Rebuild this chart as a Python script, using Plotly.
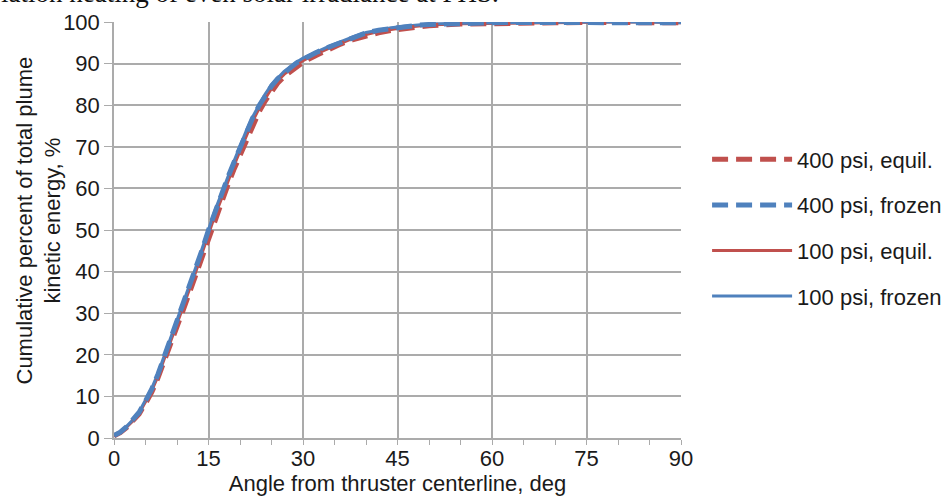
import plotly.graph_objects as go

angle = [0, 1, 2, 3, 4, 5, 6, 7, 8, 9, 10, 11, 12, 13, 14, 15, 16, 17, 18, 19, 20,
         21, 22, 23, 24, 25, 26, 27, 28, 29, 30, 32, 34, 36, 38, 40, 42, 44, 46, 48,
         50, 55, 60, 65, 70, 75, 80, 85, 90]

equil_400 = [0.5, 1.3, 2.5, 4.0, 5.8, 8.3, 11.0, 14.5, 18.4, 22.6, 26.7, 30.8, 35.0, 39.3,
             43.7, 48.2, 52.4, 56.4, 60.5, 64.4, 68.0, 71.8, 75.2, 78.3, 81.0, 83.4, 85.3,
             86.9, 88.1, 89.3, 90.3, 91.9, 93.4, 94.7, 95.8, 96.7, 97.4, 98.0, 98.4, 98.8,
             99.1, 99.5, 99.7, 99.8, 99.8, 99.9, 99.9, 99.9, 99.8]

frozen_400 = [0.6, 1.4, 2.7, 4.3, 6.2, 8.9, 11.8, 15.4, 19.6, 23.8, 27.9, 32.1, 36.4, 40.8,
              45.3, 50.0, 54.3, 58.2, 62.4, 66.1, 69.8, 73.6, 76.9, 79.8, 82.4, 84.6, 86.4,
              87.9, 89.0, 90.2, 91.1, 92.6, 93.9, 95.1, 96.4, 97.4, 98.0, 98.5, 98.9, 99.2,
              99.4, 99.7, 99.8, 99.9, 99.9, 100.0, 100.0, 100.0, 99.8]

equil_100 = [0.5, 1.4, 2.6, 4.1, 6.0, 8.6, 11.4, 14.9, 19.0, 23.2, 27.3, 31.4, 35.7, 40.0,
             44.5, 49.1, 53.4, 57.3, 61.5, 65.3, 69.0, 72.7, 76.1, 79.1, 81.7, 84.0, 85.9,
             87.4, 88.6, 89.8, 90.7, 92.3, 93.6, 94.9, 96.1, 97.0, 97.7, 98.2, 98.7, 99.0,
             99.3, 99.6, 99.7, 99.8, 99.9, 99.9, 100.0, 100.0, 99.8]

frozen_100 = [0.6, 1.5, 2.8, 4.4, 6.3, 9.0, 12.0, 15.6, 19.8, 24.0, 28.2, 32.4, 36.7, 41.1,
              45.6, 50.3, 54.6, 58.5, 62.7, 66.4, 70.1, 73.9, 77.2, 80.1, 82.7, 84.9, 86.6,
              88.1, 89.2, 90.4, 91.3, 92.8, 94.1, 95.3, 96.5, 97.5, 98.1, 98.6, 99.0, 99.3,
              99.5, 99.7, 99.8, 99.9, 99.9, 100.0, 100.0, 100.0, 99.8]

names = ["400 psi, equil.", "400 psi, frozen", "100 psi, equil.", "100 psi, frozen"]
x_title = "Angle from thruster centerline, deg"
y_title = "Cumulative percent of total plume<br>kinetic energy, %"
top_text = "iation heating of even solar irradiance at PHS."

RED = "#C0504D"
BLUE = "#4F81BD"
GRID = "#ABABAB"
FONT = "Liberation Sans, Arial, sans-serif"

fig = go.Figure()

series = [
    (names[2], equil_100, RED, None, 3, 3),
    (names[3], frozen_100, BLUE, None, 3, 4),
    (names[0], equil_400, RED, "16px,8px", 5, 1),
    (names[1], frozen_400, BLUE, "16px,8px", 5, 2),
]
for name, vals, color, dash, width, rank in series:
    fig.add_trace(go.Scatter(
        x=angle, y=vals, mode="lines", name=name,
        line=dict(color=color, width=width, dash=dash),
        legendrank=rank, legendgroup=name,
    ))

fig.update_layout(
    width=947, height=498,
    margin=dict(l=114, r=266, t=22, b=60, autoexpand=False),
    paper_bgcolor="white", plot_bgcolor="white",
    font=dict(family=FONT, size=22, color="#1a1a1a"),
    showlegend=True,
    legend=dict(x=1.046, y=0.72, xanchor="left", yanchor="top",
                font=dict(family=FONT, size=22, color="#1a1a1a"),
                itemwidth=80,
                tracegroupgap=14, bgcolor="rgba(0,0,0,0)"),
    xaxis=dict(
        range=[0, 90], tick0=0, dtick=15, automargin=True,
        showgrid=True, gridcolor=GRID, gridwidth=1.5,
        showline=True, linecolor=GRID, linewidth=1.5,
        ticks="outside", ticklen=5, tickcolor=GRID,
        minor=dict(dtick=5, ticks="outside", ticklen=5, tickcolor=GRID, showgrid=False),
        tickfont=dict(size=22), zeroline=False, ticklabelstandoff=-5,
        title=dict(text=x_title, font=dict(size=22), standoff=4),
    ),
    yaxis=dict(
        range=[0, 100], dtick=10, automargin=True,
        showgrid=True, gridcolor=GRID, gridwidth=1.5,
        showline=True, linecolor=GRID, linewidth=1.5,
        ticks="outside", ticklen=8, tickcolor=GRID,
        tickfont=dict(size=22), zeroline=False,
    ),
    annotations=[
        dict(text=y_title, textangle=-90,
             xref="paper", yref="paper", x=(38.5 - 114) / 567, y=1 - (221 - 22) / 416,
             xanchor="center", yanchor="middle", showarrow=False,
             font=dict(family=FONT, size=22, color="#1a1a1a")),
        dict(text=top_text,
             xref="paper", yref="paper", x=-115 / 567, y=1 + 12 / 416,
             xanchor="left", yanchor="bottom", showarrow=False,
             font=dict(family="Liberation Serif, Times New Roman, serif", size=27, color="#111")),
    ],
)

fig.write_html("out.html", config={"displayModeBar": False},
               post_script="document.body.style.margin='0';")
